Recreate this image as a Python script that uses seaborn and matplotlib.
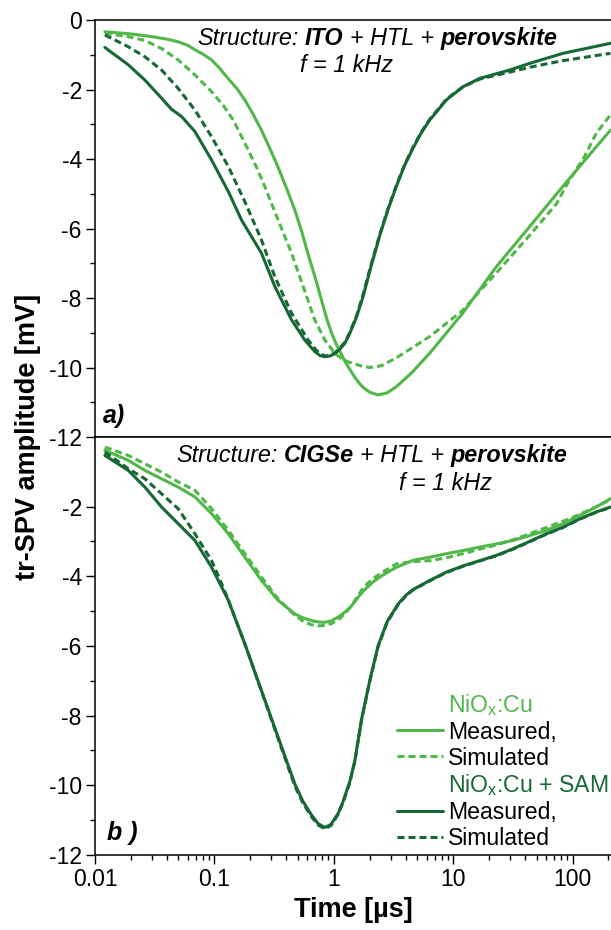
import numpy as np
import pandas as pd
import matplotlib
matplotlib.use("Agg")
import matplotlib.pyplot as plt
import seaborn as sns
from matplotlib.lines import Line2D
from matplotlib.ticker import LogLocator, NullFormatter, FixedLocator

# ---------------- data (time in µs, amplitude in mV) ----------------
# Panel a) ITO + HTL + perovskite
a_cu_meas_t = [0.0121, 0.020, 0.030, 0.040, 0.050, 0.060, 0.069, 0.080, 0.095, 0.110,
               0.130, 0.155, 0.180, 0.210, 0.248, 0.290, 0.340, 0.400, 0.472, 0.540,
               0.606, 0.700, 0.789, 0.870, 0.957, 1.04, 1.12, 1.24, 1.36, 1.50,
               1.65, 1.80, 2.00, 2.35, 2.80, 3.35, 4.50, 6.36, 12.0, 23.0,
               43.6, 82.4, 158, 208]
a_cu_meas_v = [-0.34, -0.40, -0.48, -0.55, -0.63, -0.73, -0.86, -0.98, -1.15, -1.38,
               -1.68, -1.98, -2.30, -2.70, -3.17, -3.68, -4.22, -4.82, -5.47, -6.10,
               -6.71, -7.42, -8.06, -8.58, -9.00, -9.30, -9.52, -9.82, -10.05, -10.28,
               -10.47, -10.60, -10.71, -10.79, -10.73, -10.55, -10.15, -9.59, -8.44, -7.10,
               -5.95, -4.80, -3.65, -3.17]

a_cu_sim_t = [0.0121, 0.019, 0.0262, 0.0361, 0.0498, 0.0687, 0.0948, 0.120, 0.144, 0.192,
              0.230, 0.265, 0.342, 0.443, 0.554, 0.693, 0.841, 1.02, 1.15, 1.32,
              1.76, 2.00, 2.50, 3.35, 6.36, 12.1, 16.7, 23.0, 43.6, 73.0,
              94.4, 125, 158, 208]
a_cu_sim_v = [-0.38, -0.48, -0.59, -0.82, -1.15, -1.58, -2.06, -2.48, -2.88, -3.74,
              -4.30, -4.80, -5.76, -6.71, -7.67, -8.63, -9.21, -9.59, -9.73, -9.84,
              -9.97, -10.00, -9.95, -9.72, -9.11, -8.35, -7.80, -7.28, -6.20, -5.30,
              -4.60, -3.95, -3.26, -2.73]

a_sam_meas_t = [0.0121, 0.019, 0.0262, 0.0361, 0.0438, 0.0532, 0.0687, 0.0948, 0.131, 0.169,
                0.248, 0.321, 0.443, 0.572, 0.693, 0.770, 0.841, 0.926, 1.02, 1.12,
                1.24, 1.36, 1.55, 1.76, 2.05, 2.43, 2.85, 3.35, 3.90, 4.61,
                5.40, 6.36, 8.77, 12.1, 16.7, 29.7, 43.6, 83.0, 208]
a_sam_meas_v = [-0.79, -1.29, -1.73, -2.25, -2.57, -2.78, -3.21, -4.03, -4.94, -5.76,
                -6.71, -7.67, -8.63, -9.21, -9.54, -9.66, -9.69, -9.67, -9.60, -9.48,
                -9.30, -9.02, -8.55, -7.96, -7.10, -6.20, -5.45, -4.78, -4.20, -3.69,
                -3.25, -2.88, -2.30, -1.92, -1.68, -1.44, -1.25, -0.96, -0.67]

a_sam_sim_t = [0.0121, 0.019, 0.0262, 0.0361, 0.0498, 0.0687, 0.0948, 0.131, 0.180, 0.248,
               0.321, 0.443, 0.610, 0.720, 0.841, 0.926, 1.02, 1.12, 1.24, 1.36,
               1.55, 1.76, 2.05, 2.43, 2.85, 3.35, 3.90, 4.61, 5.40, 6.36,
               8.77, 12.1, 16.7, 29.7, 43.6, 83.0, 208]
a_sam_sim_v = [-0.43, -0.77, -1.06, -1.44, -1.97, -2.59, -3.36, -4.22, -5.23, -6.33,
               -7.39, -8.44, -9.21, -9.52, -9.67, -9.65, -9.58, -9.45, -9.27, -9.00,
               -8.52, -7.90, -7.05, -6.17, -5.42, -4.76, -4.18, -3.66, -3.23, -2.86,
               -2.28, -1.92, -1.70, -1.50, -1.36, -1.17, -0.96]

# Panel b) CIGSe + HTL + perovskite
b_cu_meas_t = [0.0121, 0.019, 0.0262, 0.0361, 0.0498, 0.0687, 0.0948, 0.131, 0.180, 0.248,
               0.342, 0.472, 0.550, 0.650, 0.740, 0.841, 0.950, 1.09, 1.25, 1.40,
               1.60, 1.76, 2.10, 2.43, 2.90, 3.35, 4.61, 6.36, 8.77, 12.1,
               16.7, 23.0, 31.7, 43.6, 60.2, 83.0, 115, 158, 208]
b_cu_meas_v = [-0.38, -0.67, -0.96, -1.20, -1.44, -1.72, -2.20, -2.78, -3.45, -4.12,
               -4.69, -5.08, -5.19, -5.27, -5.31, -5.32, -5.28, -5.17, -5.02, -4.86,
               -4.60, -4.43, -4.18, -4.02, -3.86, -3.74, -3.54, -3.45, -3.35, -3.26,
               -3.16, -3.07, -2.97, -2.83, -2.68, -2.49, -2.25, -2.01, -1.77]

b_cu_sim_t = [0.0121, 0.019, 0.0262, 0.0361, 0.0498, 0.0687, 0.0948, 0.131, 0.180, 0.248,
              0.342, 0.472, 0.560, 0.650, 0.740, 0.841, 0.950, 1.09, 1.25, 1.40,
              1.60, 1.76, 2.10, 2.43, 3.35, 4.61, 6.36, 8.77, 12.1, 16.7,
              23.0, 31.7, 43.6, 60.2, 83.0, 115, 158, 208]
b_cu_sim_v = [-0.29, -0.53, -0.77, -1.01, -1.29, -1.53, -2.06, -2.68, -3.35, -4.02,
              -4.65, -5.12, -5.30, -5.39, -5.42, -5.41, -5.36, -5.25, -5.06, -4.86,
              -4.55, -4.33, -4.08, -3.93, -3.64, -3.58, -3.55, -3.47, -3.35, -3.22,
              -3.10, -2.95, -2.78, -2.60, -2.42, -2.22, -2.00, -1.80]

b_sam_meas_t = [0.0121, 0.019, 0.0262, 0.0361, 0.0498, 0.0687, 0.0948, 0.131, 0.180, 0.248,
                0.342, 0.472, 0.550, 0.650, 0.740, 0.841, 0.950, 1.09, 1.20, 1.36,
                1.50, 1.71, 2.00, 2.35, 2.80, 3.45, 4.00, 4.61, 6.36, 8.77,
                12.1, 16.7, 23.0, 31.7, 43.6, 60.2, 83.0, 115, 158, 208]
b_sam_meas_v = [-0.53, -0.96, -1.44, -2.01, -2.49, -2.97, -3.74, -4.69, -5.94, -7.28,
                -8.62, -9.96, -10.45, -10.85, -11.10, -11.21, -11.12, -10.80, -10.45, -9.90,
                -9.30, -8.10, -7.00, -6.00, -5.30, -4.80, -4.55, -4.38, -4.12, -3.88,
                -3.70, -3.55, -3.40, -3.21, -3.00, -2.78, -2.59, -2.35, -2.15, -2.01]

b_sam_sim_t = [0.0121, 0.019, 0.0262, 0.0361, 0.0498, 0.0687, 0.0948, 0.115, 0.131, 0.180,
               0.248, 0.342, 0.472, 0.550, 0.650, 0.740, 0.841, 0.950, 1.09, 1.20,
               1.36, 1.50, 1.71, 2.00, 2.35, 2.80, 3.45, 4.00, 4.61, 6.36,
               8.77, 12.1, 16.7, 23.0, 31.7, 43.6, 60.2, 83.0, 115, 158,
               208]
b_sam_sim_v = [-0.43, -0.91, -1.20, -1.63, -2.06, -2.78, -3.55, -4.21, -4.69, -5.94,
               -7.30, -8.66, -10.02, -10.50, -10.90, -11.14, -11.25, -11.15, -10.83, -10.48,
               -9.93, -9.32, -8.12, -7.02, -6.02, -5.32, -4.82, -4.57, -4.39, -4.13,
               -3.89, -3.71, -3.56, -3.41, -3.22, -3.01, -2.79, -2.60, -2.36, -2.16,
               -2.02]

samples = ["NiO$_\\mathregular{x}$:Cu", "NiO$_\\mathregular{x}$:Cu + SAM"]
kinds = ["Measured,", "Simulated"]
x_ticks = [0.01, 0.1, 1, 10, 100]
x_ticklabels = ["0.01", "0.1", "1", "10", "100"]
a_yticks = [0, -2, -4, -6, -8, -10, -12]
b_yticks = [-2, -4, -6, -8, -10, -12]

# ---------------- style ----------------
LIGHT = "#50b848"
DARK = "#166834"
DASH = (2.3, 1.3)
LW = 2.2
TICK_FS = 16.5
ANN_FS = 16.8
LAB_FS = 19.5

sns.set_theme(style="ticks")
plt.rcParams["font.family"] = ["Liberation Sans", "DejaVu Sans"]
plt.rcParams["axes.unicode_minus"] = False
plt.rcParams["mathtext.fontset"] = "custom"
plt.rcParams["mathtext.rm"] = "Liberation Sans"
plt.rcParams["mathtext.it"] = "Liberation Sans:italic"
plt.rcParams["mathtext.bf"] = "Liberation Sans:bold"


def frame(t, v, sample, kind):
    return pd.DataFrame({"time": t, "amp": v, "sample": sample, "kind": kind})


df_a = pd.concat([
    frame(a_cu_meas_t, a_cu_meas_v, samples[0], kinds[0]),
    frame(a_cu_sim_t, a_cu_sim_v, samples[0], kinds[1]),
    frame(a_sam_meas_t, a_sam_meas_v, samples[1], kinds[0]),
    frame(a_sam_sim_t, a_sam_sim_v, samples[1], kinds[1]),
], ignore_index=True)
df_b = pd.concat([
    frame(b_cu_meas_t, b_cu_meas_v, samples[0], kinds[0]),
    frame(b_cu_sim_t, b_cu_sim_v, samples[0], kinds[1]),
    frame(b_sam_meas_t, b_sam_meas_v, samples[1], kinds[0]),
    frame(b_sam_sim_t, b_sam_sim_v, samples[1], kinds[1]),
], ignore_index=True)

palette = {samples[0]: LIGHT, samples[1]: DARK}
dashes = {kinds[0]: "", kinds[1]: DASH}

W, H = 611, 930
fig = plt.figure(figsize=(W / 100, H / 100), dpi=100)
left = 95 / W
width = 1.0 - left
ax1 = fig.add_axes([left, 1 - 437 / H, width, 417 / H])
ax2 = fig.add_axes([left, 1 - 855 / H, width, 418 / H])

for ax, df in ((ax1, df_a), (ax2, df_b)):
    ax.set_xscale("log")
    sns.lineplot(data=df, x="time", y="amp", hue="sample", style="kind",
                 palette=palette, dashes=dashes, estimator=None, sort=False,
                 linewidth=LW, legend=False, ax=ax)
    for ln in ax.get_lines():
        ln.set_solid_joinstyle("round")
        ln.set_dash_joinstyle("round")
    ax.set_xlim(0.01, 210)
    ax.set_ylim(-12, 0)
    ax.set_xlabel("")
    ax.set_ylabel("")
    ax.set_xticks(x_ticks)
    ax.xaxis.set_minor_locator(LogLocator(base=10, subs=np.arange(2, 10), numticks=20))
    ax.xaxis.set_minor_formatter(NullFormatter())
    ax.spines["right"].set_visible(False)
    for s in ("left", "bottom", "top"):
        ax.spines[s].set_linewidth(1.1)
        ax.spines[s].set_color("black")
    ax.tick_params(which="both", direction="out", color="black", width=1.0,
                   labelsize=TICK_FS, labelcolor="black", top=False, right=False)
    ax.tick_params(which="major", length=6.5, pad=3.0)
    ax.tick_params(which="minor", length=3.6)

ax1.set_yticks(a_yticks)
ax1.set_yticklabels([str(v) for v in a_yticks])
ax1.yaxis.set_minor_locator(FixedLocator([-1, -3, -5, -7, -9, -11]))
ax1.tick_params(axis="x", which="both", labelbottom=False)

ax2.set_yticks(b_yticks)
ax2.set_yticklabels([str(v) for v in b_yticks])
ax2.yaxis.set_minor_locator(FixedLocator([-3, -5, -7, -9, -11]))
ax2.set_xticklabels(x_ticklabels)
ax2.set_xlabel("Time [µs]", fontsize=LAB_FS, fontweight="bold", labelpad=4, color="black")

fig.text(28 / W, 1 - 437 / H, "tr-SPV amplitude [mV]", rotation=90, fontsize=LAB_FS,
         fontweight="bold", ha="center", va="center", color="black")


def rich_text(ax, x, y, parts, size=ANN_FS):
    t = ax.text(x, y, parts[0][0], transform=ax.transAxes, fontsize=size,
                style="italic", fontweight=parts[0][1], ha="left", va="bottom", color="black")
    for s, w, gap in parts[1:]:
        t = ax.annotate(s, xy=(1, 0), xycoords=t, xytext=(gap, 0), textcoords="offset points",
                        fontsize=size, style="italic", fontweight=w, ha="left", va="bottom",
                        color="black")


sp = 0.278 * ANN_FS
rich_text(ax1, (197 - 95) / 516, 0.928,
          [("Structure:", "normal"), ("ITO", "bold", sp), ("+ HTL +", "normal", sp),
           ("perovskite", "bold", sp)])
ax1.text((300 - 95) / 516, 0.863, "f = 1 kHz", transform=ax1.transAxes, fontsize=ANN_FS,
         style="italic", ha="left", va="bottom", color="black")
rich_text(ax2, (176 - 95) / 516, 0.928,
          [("Structure:", "normal"), ("CIGSe", "bold", sp), ("+ HTL +", "normal", sp),
           ("perovskite", "bold", sp)])
ax2.text((399 - 95) / 516, 0.862, "f = 1 kHz", transform=ax2.transAxes, fontsize=ANN_FS,
         style="italic", ha="left", va="bottom", color="black")

ax1.text(0.0155, 0.034, "a)", transform=ax1.transAxes, fontsize=18, fontweight="bold",
         style="italic", ha="left", va="baseline", color="black")
ax2.text(0.023, 0.036, "b )", transform=ax2.transAxes, fontsize=18, fontweight="bold",
         style="italic", ha="left", va="baseline", color="black")

handles = [
    Line2D([], [], color="none"),
    Line2D([], [], color=LIGHT, lw=LW),
    Line2D([], [], color=LIGHT, lw=LW, ls=(0, DASH)),
    Line2D([], [], color="none"),
    Line2D([], [], color=DARK, lw=LW),
    Line2D([], [], color=DARK, lw=LW, ls=(0, DASH)),
]
labels = [samples[0], kinds[0], kinds[1], samples[1], kinds[0], kinds[1]]
leg = ax2.legend(handles, labels, loc="lower left", bbox_to_anchor=((397 - 95) / 516, 0.011),
                 frameon=False, fontsize=ANN_FS - 0.2, handlelength=2.0, handletextpad=0.22,
                 labelspacing=0.13, borderpad=0, borderaxespad=0)
for txt, c in zip(leg.get_texts(), [LIGHT, "black", "black", DARK, "black", "black"]):
    txt.set_color(c)

fig.savefig("out.png", dpi=100)
